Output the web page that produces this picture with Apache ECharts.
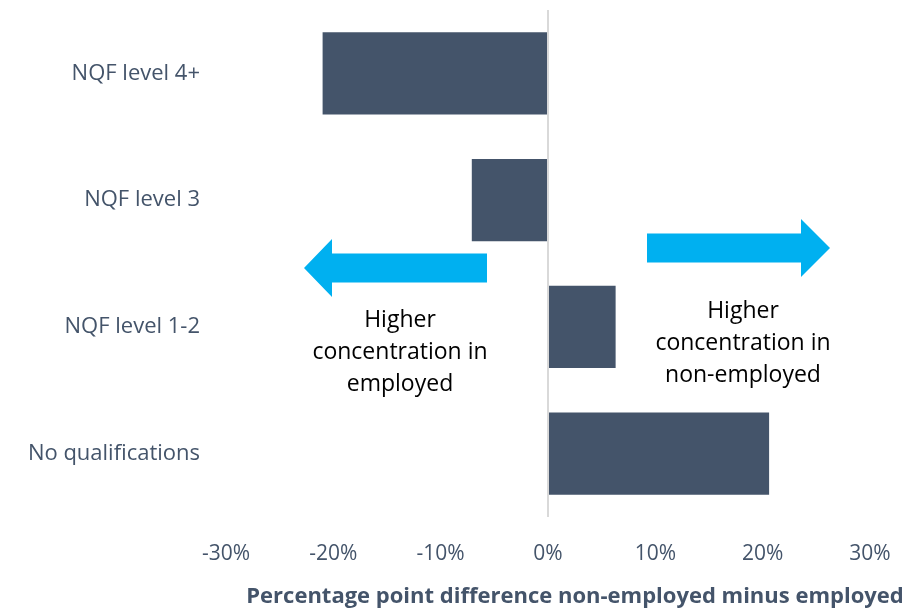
<!DOCTYPE html>
<html>
<head>
<meta charset="utf-8">
<script src="https://cdn.jsdelivr.net/npm/echarts@6/dist/echarts.min.js"></script>
<style>html,body{margin:0;padding:0;background:#fff}#c{width:920px;height:608px}</style>
</head>
<body>
<div id="c"></div>
<script>
var categories = ['No qualifications', 'NQF level 1-2', 'NQF level 3', 'NQF level 4+'];
var values = [20.6, 6.3, -7.1, -21.0];
var xTicks = { min: -30, max: 30, interval: 10 };
var axisTitle = 'Percentage point difference non-employed minus employed';
var leftNote = 'Higher\nconcentration in\nemployed';
var rightNote = 'Higher\nconcentration in\nnon-employed';

var FONT = 'Open Sans';
var SLATE = '#44546A';
var ARROW = '#00B0F0';

var chart = echarts.init(document.getElementById('c'));

function arrowPts(x0, x1, yc, bodyH, headH, headL) {
  var dir = x1 > x0 ? 1 : -1;
  var xb = x1 - dir * headL;
  return [[x0, yc - bodyH / 2], [xb, yc - bodyH / 2], [xb, yc - headH / 2], [x1, yc],
          [xb, yc + headH / 2], [xb, yc + bodyH / 2], [x0, yc + bodyH / 2]];
}

chart.setOption({
  animation: false,
  grid: { left: 226, right: 50, top: 10, bottom: 91, containLabel: false },
  xAxis: {
    type: 'value', min: xTicks.min, max: xTicks.max, interval: xTicks.interval,
    axisLine: { show: false }, axisTick: { show: false }, splitLine: { show: false },
    axisLabel: { formatter: '{value}%', color: SLATE, fontFamily: FONT, fontSize: 21, margin: 27 }
  },
  yAxis: {
    type: 'category', data: categories,
    axisLine: { show: false }, axisTick: { show: false },
    axisLabel: { color: SLATE, fontFamily: FONT, fontSize: 22, margin: 26, padding: [3, 0, 0, 0] }
  },
  series: [{
    type: 'bar', data: values, barCategoryGap: '35%',
    itemStyle: { color: SLATE },
    markLine: {
      silent: true, symbol: 'none', label: { show: false },
      lineStyle: { color: '#D9D9D9', width: 2, type: 'solid' },
      data: [{ xAxis: 0 }]
    }
  }],
  graphic: [
    { type: 'polygon', shape: { points: arrowPts(487, 304, 268, 29, 58, 28) }, style: { fill: ARROW } },
    { type: 'polygon', shape: { points: arrowPts(647, 830, 248, 29, 58, 29) }, style: { fill: ARROW } },
    { type: 'text', x: 400, y: 352, style: { text: leftNote, fill: '#000', font: '23px "Open Sans"', align: 'center', verticalAlign: 'middle', lineHeight: 32 } },
    { type: 'text', x: 743, y: 343, style: { text: rightNote, fill: '#000', font: '23px "Open Sans"', align: 'center', verticalAlign: 'middle', lineHeight: 32 } },
    { type: 'text', x: 575, y: 597, style: { text: axisTitle, fill: SLATE, font: 'bold 22px "Open Sans"', align: 'center', verticalAlign: 'middle' } }
  ]
});
</script>
</body>
</html>
